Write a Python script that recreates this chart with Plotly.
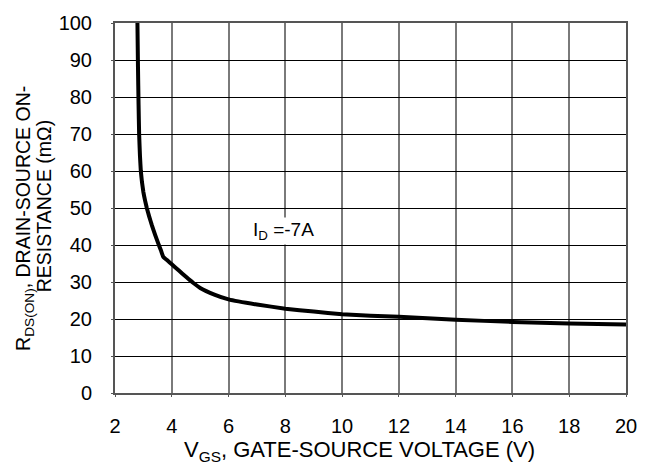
import plotly.graph_objects as go

vgs = [2.79, 2.81, 2.83, 2.85, 2.88, 2.91, 2.95, 3.0, 3.06, 3.12, 3.2, 3.3, 3.42, 3.53, 3.62, 3.70, 3.85, 4.0, 4.25, 4.5, 4.75, 5.0, 5.5, 6.0, 7.0, 8.0, 9.0, 10.0, 11.0, 12.0, 14.0, 16.0, 18.0, 20.0]
rds = [100, 88, 78, 70, 64, 60, 57, 54.3, 52, 50, 47.8, 45.3, 42.6, 40.3, 38.5, 36.8, 35.8, 34.8, 33.1, 31.4, 29.8, 28.4, 26.6, 25.3, 23.9, 22.8, 22.0, 21.3, 20.9, 20.6, 19.8, 19.2, 18.8, 18.5]

x_ticks = [2, 4, 6, 8, 10, 12, 14, 16, 18, 20]
y_ticks = [0, 10, 20, 30, 40, 50, 60, 70, 80, 90, 100]

fam = "Liberation Sans, Arial, sans-serif"
tick_font = dict(family=fam, size=20, color="black")
title_font = dict(family=fam, size=22, color="black")
ytitle_font = dict(family=fam, size=19.5, color="black")
note_font = dict(family=fam, size=19, color="black")

fig = go.Figure()
fig.add_trace(go.Scatter(x=vgs, y=rds, mode="lines",
                         line=dict(color="black", width=4, shape="spline", smoothing=0.3),
                         showlegend=False, hoverinfo="skip"))

fig.add_annotation(x=7.92, y=43.8, xref="x", yref="y",
                   text="I<sub>D</sub> =-7A", showarrow=False,
                   font=note_font, bgcolor="white")

fig.add_annotation(xref="paper", yref="paper", x=-0.177, y=0.472,
                   xanchor="center", yanchor="middle",
                   text="R<sub>DS(ON)</sub>, DRAIN-SOURCE ON-",
                   textangle=-90, showarrow=False, font=ytitle_font)
fig.add_annotation(xref="paper", yref="paper", x=-0.140, y=0.506,
                   xanchor="center", yanchor="middle",
                   text="RESISTANCE (mΩ)",
                   textangle=-90, showarrow=False, font=ytitle_font)
fig.add_annotation(xref="paper", yref="paper", x=0.479, y=-0.157,
                   xanchor="center", yanchor="middle",
                   text="V<sub>GS</sub>, GATE-SOURCE VOLTAGE (V)",
                   showarrow=False, font=title_font)

fig.update_layout(
    width=652, height=466,
    margin=dict(l=115, r=26, t=18, b=73),
    paper_bgcolor="white", plot_bgcolor="white",
    font=tick_font,
    xaxis=dict(range=[2, 20], tickvals=x_ticks, ticktext=[str(v) for v in x_ticks],
               showgrid=True, gridcolor="#7a7a7a", gridwidth=1.6,
               showline=True, linecolor="#555555", linewidth=2, mirror=True,
               zeroline=False, ticks="outside", ticklen=2, tickcolor="#555555",
               tickfont=tick_font),
    yaxis=dict(range=[0, 100], tickvals=y_ticks, ticktext=[str(v) for v in y_ticks],
               showgrid=True, gridcolor="black", gridwidth=1,
               showline=True, linecolor="#555555", linewidth=2, mirror=True,
               zeroline=False, ticks="outside", ticklen=2, tickcolor="#555555",
               tickfont=tick_font),
)
fig.update_xaxes(ticklabelstandoff=12)
fig.update_yaxes(ticklabelstandoff=15)

fig.write_html("out.html")
